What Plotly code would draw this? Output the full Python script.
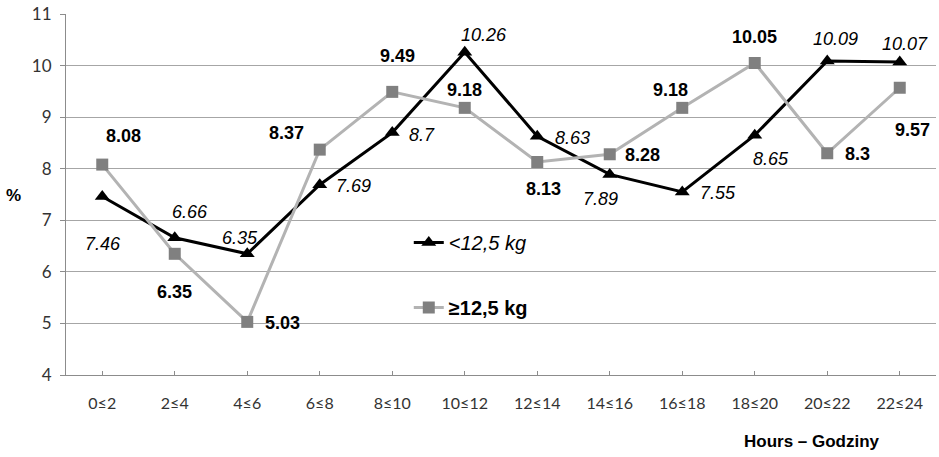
import plotly.graph_objects as go

categories = ["0≤2", "2≤4", "4≤6", "6≤8", "8≤10", "10≤12", "12≤14", "14≤16",
              "16≤18", "18≤20", "20≤22", "22≤24"]
below_12_5 = [7.46, 6.66, 6.35, 7.69, 8.7, 10.26, 8.63, 7.89, 7.55, 8.65, 10.09, 10.07]
above_12_5 = [8.08, 6.35, 5.03, 8.37, 9.49, 9.18, 8.13, 8.28, 9.18, 10.05, 8.3, 9.57]
below_labels = ["7.46", "6.66", "6.35", "7.69", "8.7", "10.26", "8.63", "7.89", "7.55", "8.65", "10.09", "10.07"]
above_labels = ["8.08", "6.35", "5.03", "8.37", "9.49", "9.18", "8.13", "8.28", "9.18", "10.05", "8.3", "9.57"]
y_ticks = [4, 5, 6, 7, 8, 9, 10, 11]

# label offsets in pixels (dx right, dy down) - styling only
below_off = [(1, 47), (15, -26), (-7, -16), (34, 1), (30, 2), (19, -17), (35, 2),
             (-9, 25), (36, 1), (16, 24), (8, -22), (5, -18)]
above_off = [(21, -29), (0, 38), (35, 1), (-33, -17), (5, -36), (0, -18), (6, 27),
             (33, 1), (-12, -18), (0, -26), (30, 1), (13, 42)]

LABEL_FONT = "Liberation Sans, Arial"

fig = go.Figure()
fig.add_trace(go.Scatter(
    x=categories, y=below_12_5, mode="lines+markers", name="<i><12,5 kg</i>",
    line=dict(color="#000000", width=3),
    marker=dict(symbol="triangle-up", size=13, color="#000000"),
    legendgroup="a", legendrank=1,
))
fig.add_trace(go.Scatter(
    x=categories, y=above_12_5, mode="lines+markers", name="<b>≥12,5 kg</b>",
    line=dict(color="#b3b3b3", width=3),
    marker=dict(symbol="square", size=12, color="#808080"),
    legendgroup="b", legendrank=2,
))

for cat, val, lab, (dx, dy) in zip(categories, below_12_5, below_labels, below_off):
    fig.add_annotation(x=cat, y=val, text="<i>" + lab + "</i>", showarrow=False,
                       xanchor="center", yanchor="middle", xshift=dx, yshift=-dy,
                       font=dict(family=LABEL_FONT, size=18, color="#000000"))
for cat, val, lab, (dx, dy) in zip(categories, above_12_5, above_labels, above_off):
    fig.add_annotation(x=cat, y=val, text="<b>" + lab + "</b>", showarrow=False,
                       xanchor="center", yanchor="middle", xshift=dx, yshift=-dy,
                       font=dict(family=LABEL_FONT, size=18, color="#000000"))

# white box behind the legend (covers gridlines)
fig.add_shape(type="rect", xref="paper", yref="paper", x0=0.369, x1=0.570, y0=0.110, y1=0.468,
              fillcolor="white", line=dict(width=0), layer="between")

fig.add_annotation(text="<b>%</b>", xref="paper", yref="paper", x=-0.0598, y=0.496,
                   xanchor="center", yanchor="middle",
                   showarrow=False, font=dict(family=LABEL_FONT, size=17, color="#000"))
fig.add_annotation(text="<b>Hours – Godziny</b>", xref="paper", yref="paper", x=0.857, y=-0.185,
                   xanchor="center", yanchor="middle",
                   showarrow=False, font=dict(family=LABEL_FONT, size=17, color="#000"))

fig.update_layout(
    width=939, height=457,
    margin=dict(l=66, r=3, t=12, b=82),
    paper_bgcolor="white", plot_bgcolor="white",
    showlegend=True,
    legend=dict(x=0.394, y=0.421, xanchor="left", yanchor="top", bgcolor="rgba(0,0,0,0)",
                font=dict(family=LABEL_FONT, size=20, color="#000"),
                tracegroupgap=36, itemwidth=30),
    xaxis=dict(type="category", range=[-0.5, 11.5], showgrid=False, showline=True,
               linecolor="#8c8c8c", linewidth=1, ticks="inside", ticklen=4, tickcolor="#8c8c8c",
               ticklabelstandoff=14,
               tickfont=dict(family="Lato, Open Sans", size=16, color="#333333")),
    yaxis=dict(range=[4, 11], tickvals=y_ticks, showgrid=True, gridcolor="#a6a6a6", gridwidth=1,
               showline=True, linecolor="#8c8c8c", linewidth=1, ticks="outside", ticklen=5,
               tickcolor="#8c8c8c", zeroline=False, ticklabelstandoff=5,
               tickfont=dict(family="Lato, Open Sans", size=17, color="#333333")),
)

fig.write_html("out.html", config={"displayModeBar": False},
               post_script="document.body.style.margin='0';document.body.style.overflow='hidden';")
